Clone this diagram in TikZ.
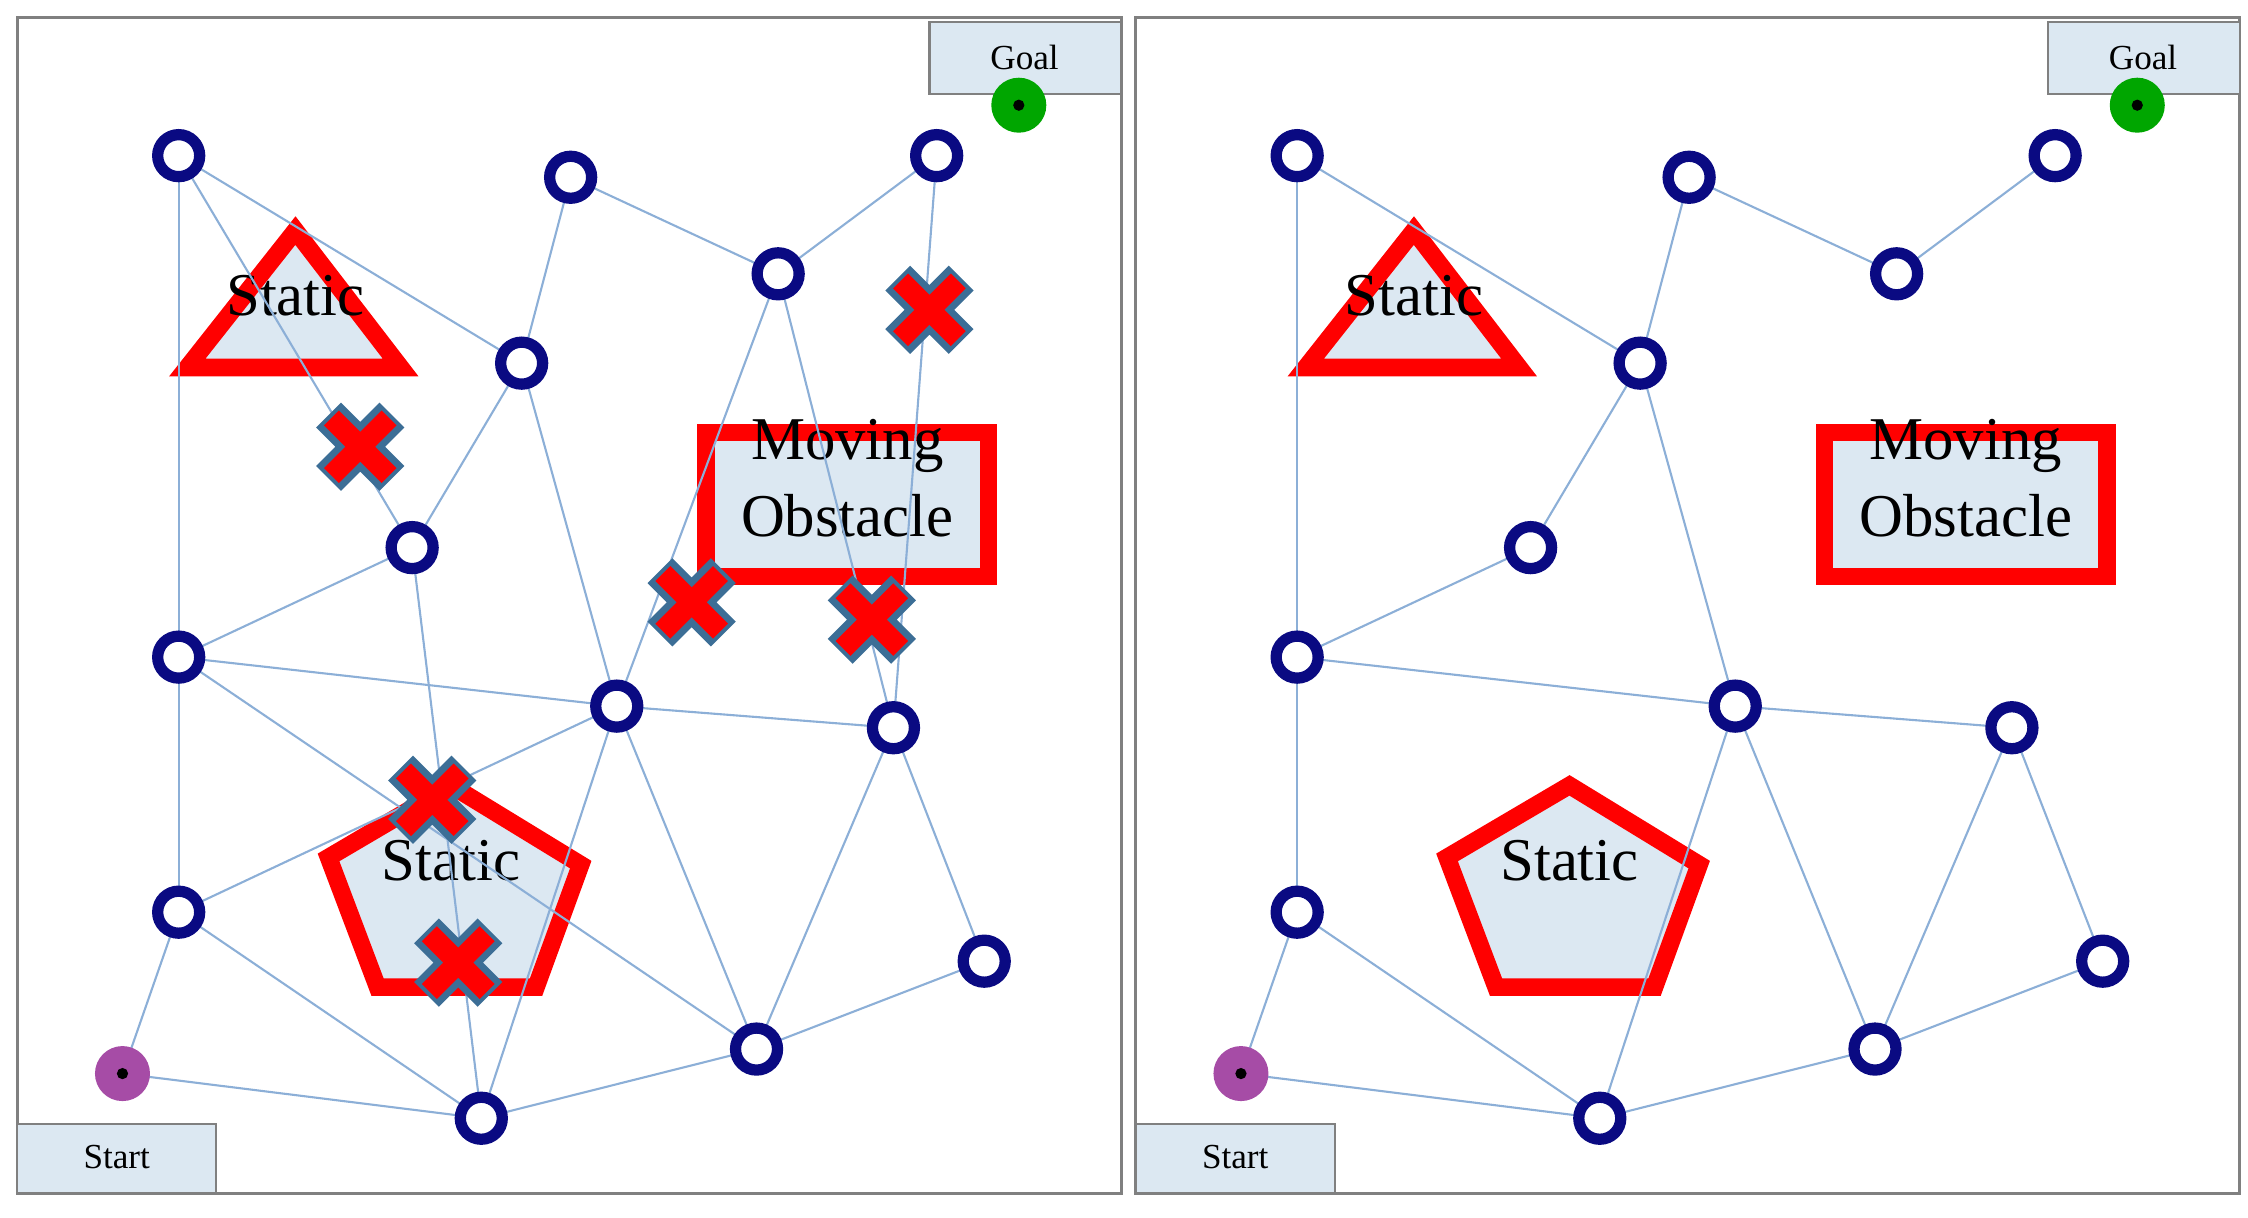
\documentclass[tikz,border=0pt]{standalone}
\usepackage{fontspec}
\setmainfont{Liberation Serif}
\definecolor{navy}{RGB}{10,10,130}
\definecolor{panelfill}{RGB}{220,232,242}
\definecolor{edgeblue}{RGB}{140,175,215}
\definecolor{crossblue}{RGB}{60,110,150}
\tikzset{
  wp/.style={circle,draw=navy,line width=3.2pt,fill=white,minimum size=0.42cm,inner sep=0pt},
  term/.style={circle,fill=#1,minimum size=0.55cm,inner sep=0pt,path picture={\fill[black] (path picture bounding box.center) circle (1.6pt);}},
  edge/.style={draw=edgeblue,line width=0.6pt},
  obst/.style={draw=red,line width=5pt,fill=panelfill,line join=miter},
  lab/.style={draw=gray,fill=panelfill,line width=0.6pt},
  blk/.style={red,line width=6pt}
}
\newcommand{\cross}[2]{%
  \draw[crossblue,line width=10pt] (#1-22,#2-22) -- (#1+22,#2+22) (#1-22,#2+22) -- (#1+22,#2-22);
  \draw[red,line width=6pt] (#1-20,#2-20) -- (#1+20,#2+20) (#1-20,#2+20) -- (#1+20,#2-20);}
\newcommand{\panel}{%
  \draw[gray,line width=0.8pt] (12,12) rectangle (778,828);
  \draw[lab] (645,15) rectangle (778,65); \node[font=\normalsize] at (711,40) {Goal};
  \draw[lab] (12,780) rectangle (150,828); \node[font=\normalsize] at (81,803) {Start};
  \draw[obst] (205,160) -- (278,255) -- (130,255) -- cycle;
  \draw[obst] (490,300) rectangle (686,400);
  \draw[obst] (313,545) -- (403,600) -- (372,685) -- (262,685) -- (228,595) -- cycle;
  \node[font=\LARGE] at (205,205) {Static};
  \node[font=\LARGE,align=center] at (588,332) {Moving\\Obstacle};
  \node[font=\LARGE] at (313,597) {Static};
  \coordinate (A) at (124,108); \coordinate (B) at (396,123);
  \coordinate (C) at (650,108); \coordinate (D) at (540,190);
  \coordinate (E) at (362,252); \coordinate (F) at (286,380);
  \coordinate (G) at (124,456); \coordinate (H) at (428,490);
  \coordinate (I) at (620,505); \coordinate (J) at (124,633);
  \coordinate (K) at (683,667); \coordinate (L) at (525,728);
  \coordinate (M) at (334,776); \coordinate (S) at (85,745);
  \coordinate (T) at (707,73);}
\newcommand{\points}{%
  \foreach \n in {A,B,C,D,E,F,G,H,I,J,K,L,M} \node[wp] (\n n) at (\n) {};
  \node[term=violet!70] (Sn) at (S) {};
  \node[term=green!65!black] (Tn) at (T) {};}

\begin{document}
\begin{tikzpicture}[x=0.01441cm,y=-0.01441cm]
\useasboundingbox (0,0) rectangle (1560,845);
% planned roadmap
\begin{scope}[name prefix=l-]
  \panel
  \foreach \a/\b in {A/G,G/J,J/S,A/E,A/F,B/E,B/D,C/D,C/I,D/H,D/I,E/F,E/H,F/M,G/F,G/H,G/L,H/I,H/M,H/L,J/H,J/M,S/M,M/L,L/K,L/I,I/K}
    \draw[edge] (\a) -- (\b);
  \points
  \cross{250}{310} \cross{645}{215} \cross{480}{418}
  \cross{605}{430} \cross{300}{555} \cross{318}{668}
\end{scope}
% pruned roadmap
\begin{scope}[xshift=11.18cm,name prefix=r-]
  \panel
  \foreach \a/\b in {A/G,G/J,J/S,A/E,B/E,B/D,D/C,E/F,E/H,F/G,G/H,H/I,H/L,H/M,I/K,I/L,K/L,L/M,M/S,J/M}
    \draw[edge] (\a) -- (\b);
  \points
\end{scope}
\end{tikzpicture}
\end{document}
